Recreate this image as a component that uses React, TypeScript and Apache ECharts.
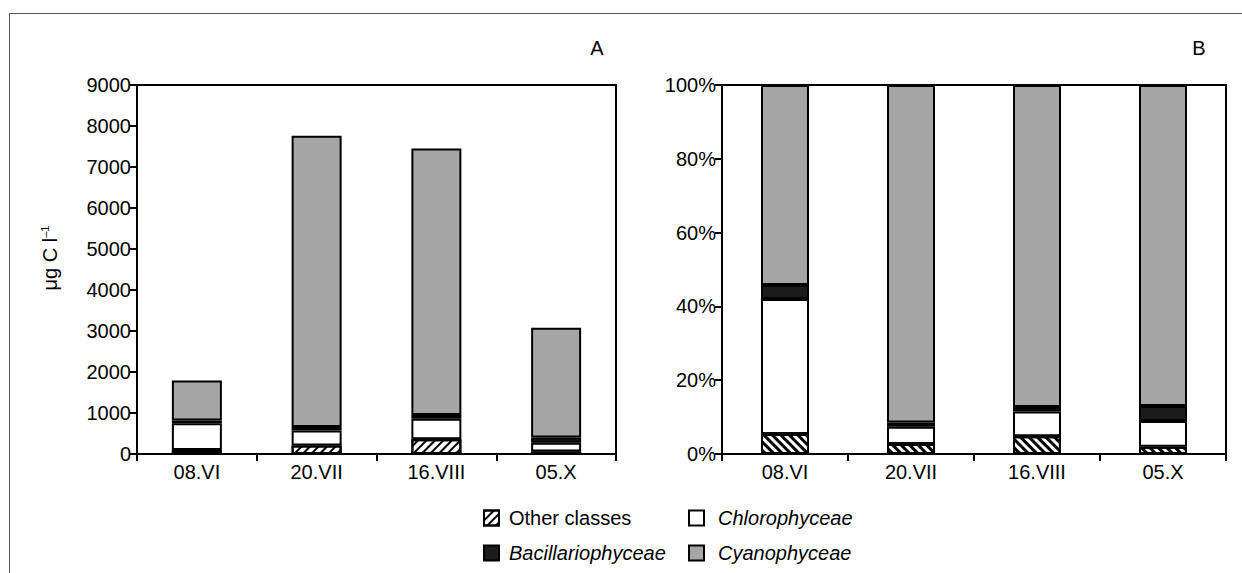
import React, { useEffect, useRef } from "react";
import * as echarts from "echarts";

const categories = ["08.VI", "20.VII", "16.VIII", "05.X"];
const otherClasses = [97, 210, 360, 60];
const chlorophyceae = [655, 365, 500, 215];
const bacillariophyceae = [68, 85, 90, 125];
const cyanophyceae = [970, 7100, 6500, 2680];
const seriesNames = ["Other classes", "Chlorophyceae", "Bacillariophyceae", "Cyanophyceae"];
const absTicks = { min: 0, max: 9000, interval: 1000 };
const pctTicks = { min: 0, max: 100, interval: 20 };

const FONT = "'Liberation Sans', Arial, sans-serif";

export default function App() {
  const ref = useRef<HTMLDivElement>(null);
  useEffect(() => {
    document.body.style.margin = "0";
    const chart = echarts.init(ref.current!, null, { renderer: "svg" });
    const all = [otherClasses, chlorophyceae, bacillariophyceae, cyanophyceae];
    const totals = categories.map((_, i) => all.reduce((s, arr) => s + arr[i], 0));
    const pct = all.map((arr) => arr.map((v, i) => (v / totals[i]) * 100));

    const colors = ["#ffffff", "#ffffff", "#1c1c1c", "#a6a6a6"];
    const hatchA = {
      symbol: "rect",
      symbolSize: 1,
      color: "#000",
      dashArrayX: [1, 0],
      dashArrayY: [2, 4],
      rotation: -Math.PI / 4,
    };
    const hatchB = {
      symbol: "rect",
      symbolSize: 1,
      color: "#000",
      dashArrayX: [1, 0],
      dashArrayY: [3, 3],
      rotation: Math.PI / 4,
    };

    const mkSeries = (panel: number) =>
      seriesNames.map((name, k) => ({
        name,
        type: "bar",
        stack: panel === 0 ? "a" : "b",
        xAxisIndex: panel,
        yAxisIndex: panel,
        barWidth: panel === 0 ? 50 : 48,
        data: panel === 0 ? all[k] : pct[k],
        itemStyle: {
          color: colors[k],
          borderColor: "#000",
          borderWidth: 2,
          decal: k === 0 ? (panel === 0 ? hatchA : hatchB) : undefined,
        },
        emphasis: { disabled: true },
      }));

    const axisCommon = {
      axisLine: { show: true, lineStyle: { color: "#000", width: 2 } },
      axisTick: { show: true, length: 7, lineStyle: { color: "#000", width: 2 } },
      splitLine: { show: false },
      axisLabel: { color: "#000", fontSize: 20, fontFamily: FONT },
    };

    const legendText = {
      color: "#000",
      fontSize: 20,
      fontFamily: FONT,
      padding: [0, 0, 0, 5],
      rich: {
        i: { fontStyle: "italic", fontSize: 20, fontFamily: FONT, color: "#000" },
      },
    };
    const fmt = (n: string) => (n === "Other classes" ? n : "{i|" + n + "}");

    chart.setOption({
      animation: false,
      backgroundColor: "#fff",
      grid: [
        { left: 137, right: 626, top: 85, bottom: 119, show: true, borderColor: "#000", borderWidth: 2, backgroundColor: "transparent" },
        { left: 722, right: 16, top: 85, bottom: 119, show: true, borderColor: "#000", borderWidth: 2, backgroundColor: "transparent" },
      ],
      xAxis: [0, 1].map((g) => ({
        type: "category",
        gridIndex: g,
        data: categories,
        ...axisCommon,
        axisLabel: { ...axisCommon.axisLabel, margin: 8 },
      })),
      yAxis: [
        {
          type: "value",
          gridIndex: 0,
          ...absTicks,
          ...axisCommon,
          axisLabel: { ...axisCommon.axisLabel, margin: 6, formatter: (v: number) => String(v) },
        },
        {
          type: "value",
          gridIndex: 1,
          ...pctTicks,
          ...axisCommon,
          axisLabel: { ...axisCommon.axisLabel, margin: 6, formatter: "{value}%" },
        },
      ],
      legend: [
        {
          data: ["Other classes", "Bacillariophyceae"],
          orient: "vertical",
          left: 483,
          top: 508,
          padding: 0,
          itemWidth: 15,
          itemHeight: 15,
          itemGap: 15,
          icon: "rect",
          selectedMode: false,
          textStyle: legendText,
          formatter: fmt,
        },
        {
          data: ["Chlorophyceae", "Cyanophyceae"],
          orient: "vertical",
          left: 688,
          top: 508,
          padding: 0,
          itemWidth: 15,
          itemHeight: 15,
          itemGap: 15,
          icon: "rect",
          selectedMode: false,
          textStyle: { ...legendText, padding: [0, 0, 0, 9] },
          formatter: fmt,
        },
      ],
      graphic: [
        {
          type: "rect",
          shape: { x: 9.5, y: 13.5, width: 1400, height: 800 },
          style: { fill: "none", stroke: "#555", lineWidth: 1 },
          silent: true,
        },
        {
          type: "text",
          x: 597,
          y: 48,
          style: { text: "A", fontSize: 20, fontFamily: FONT, fill: "#000", align: "center", verticalAlign: "middle" },
        },
        {
          type: "text",
          x: 1199,
          y: 48,
          style: { text: "B", fontSize: 20, fontFamily: FONT, fill: "#000", align: "center", verticalAlign: "middle" },
        },
        {
          type: "text",
          x: 50,
          y: 258,
          rotation: Math.PI / 2,
          style: {
            text: "μg C l{sup|–1}",
            fontSize: 20,
            fontFamily: FONT,
            fill: "#000",
            align: "center",
            verticalAlign: "middle",
            rich: { sup: { fontSize: 11, fontFamily: FONT, fill: "#000", verticalAlign: "top", padding: [0, 0, 10, 0] } },
          },
        },
      ],
      series: [...mkSeries(0), ...mkSeries(1)],
    });
    return () => chart.dispose();
  }, []);
  return <div ref={ref} style={{ position: "fixed", left: 0, top: 0, width: 1242, height: 573 }} />;
}
